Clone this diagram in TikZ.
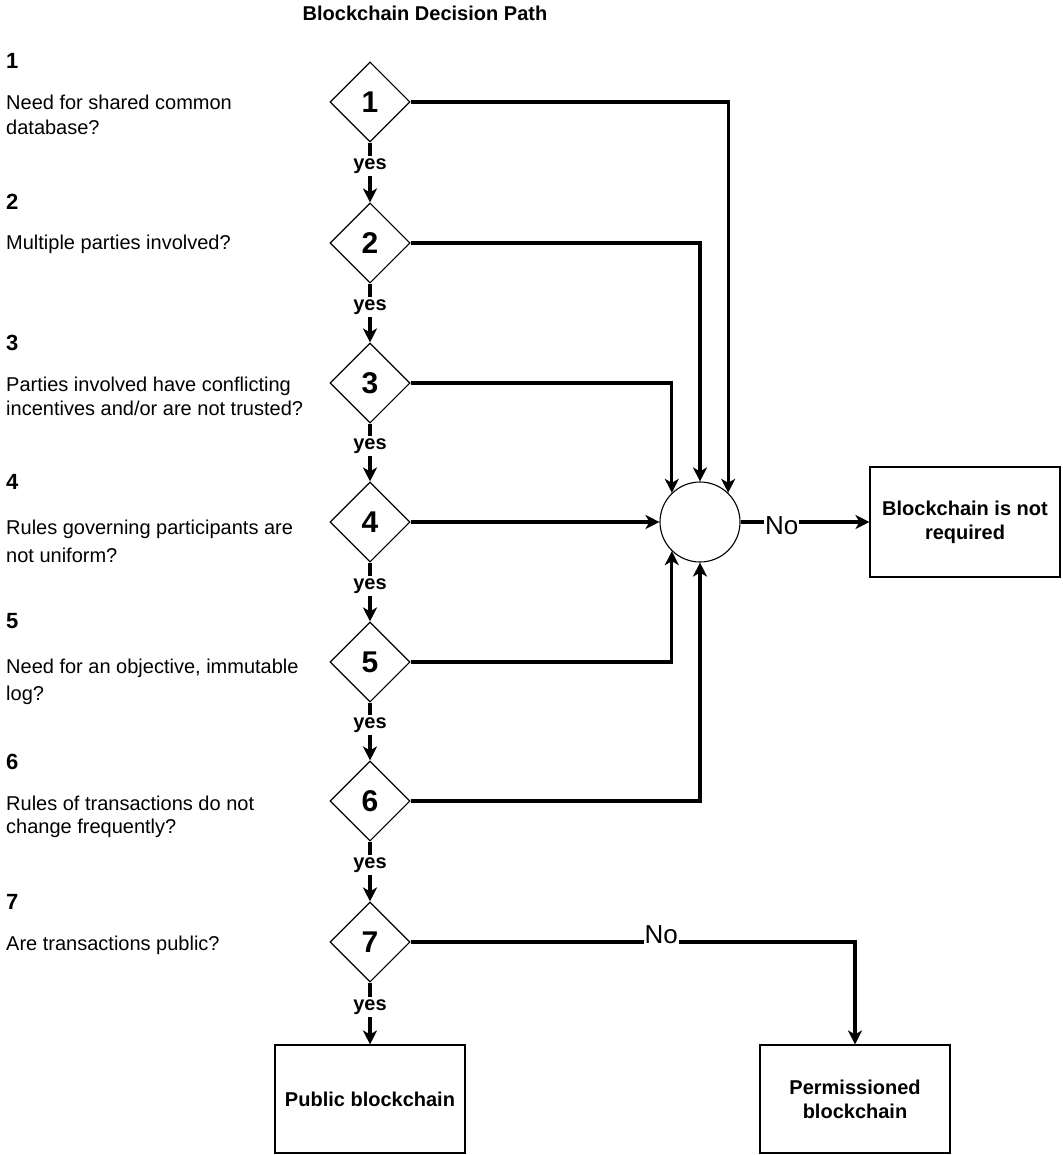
\documentclass[tikz,border=0pt]{standalone}
\usepackage{fontspec}
\setmainfont{Liberation Sans}
\usetikzlibrary{shapes.geometric,arrows.meta}
\begin{document}
\begin{tikzpicture}[x=1pt,y=-1pt,
  shapeline/.style={draw=black, line width=1.1pt},
  decision/.style={shapeline, diamond, minimum width=80pt, minimum height=80pt,
    inner sep=0pt, font=\bfseries\fontsize{30}{36}\selectfont},
  junction/.style={shapeline, circle, minimum size=80pt, inner sep=0pt},
  outcome/.style={shapeline, rectangle, minimum width=190pt, inner sep=0pt,
    align=center, font=\bfseries\fontsize{20}{24}\selectfont},
  arr/.style={line width=3.2pt, -{Stealth[length=14pt,width=14pt,inset=4pt]}},
  yeslbl/.style={fill=white, inner xsep=2pt, inner ysep=2.5pt, pos=0.45, anchor=base,
    font=\bfseries\fontsize{20}{24}\selectfont},
  nolbl/.style={fill=white, inner xsep=1pt, inner ysep=2pt,
    font=\fontsize{26}{30}\selectfont},
  stepnum/.style={anchor=base west, inner sep=0pt, font=\bfseries\fontsize{22}{26}\selectfont},
  question/.style={anchor=base west, inner sep=0pt, font=\fontsize{20}{24}\selectfont},
]
\useasboundingbox (0,0) rectangle (1062,1155);

% title
\node[anchor=base, inner sep=0pt, font=\bfseries\fontsize{20}{24}\selectfont] (title) at (425,21) {Blockchain Decision Path};

% questions listed on the left
\node[stepnum] (n1) at (6,69) {1};
\node[question] (q1a) at (6,110) {Need for shared common};
\node[question] (q1b) at (6,135) {database?};
\node[stepnum] (n2) at (6,210) {2};
\node[question] (q2a) at (6,250) {Multiple parties involved?};
\node[stepnum] (n3) at (6,350) {3};
\node[question] (q3a) at (6,391) {Parties involved have conflicting};
\node[question] (q3b) at (6,415) {incentives and/or are not trusted?};
\node[stepnum] (n4) at (6,489) {4};
\node[question] (q4a) at (6,534) {Rules governing participants are};
\node[question] (q4b) at (6,562) {not uniform?};
\node[stepnum] (n5) at (6,628) {5};
\node[question] (q5a) at (6,673) {Need for an objective, immutable};
\node[question] (q5b) at (6,700) {log?};
\node[stepnum] (n6) at (6,769) {6};
\node[question] (q6a) at (6,810) {Rules of transactions do not};
\node[question] (q6b) at (6,833) {change frequently?};
\node[stepnum] (n7) at (6,909) {7};
\node[question] (q7a) at (6,950) {Are transactions public?};

% decision diamonds
\node[decision] (d1) at (370,102) {1};
\node[decision] (d2) at (370,243) {2};
\node[decision] (d3) at (370,383) {3};
\node[decision] (d4) at (370,522) {4};
\node[decision] (d5) at (370,662) {5};
\node[decision] (d6) at (370,801) {6};
\node[decision] (d7) at (370,942) {7};

% collecting circle and outcomes
\node[junction] (c) at (700,522) {};
\node[outcome, minimum height=110pt] (nr) at (965,522) {Blockchain is not\\required};
\node[outcome, minimum height=108pt] (pub) at (370,1099) {Public blockchain};
\node[outcome, minimum height=108pt] (perm) at (855,1099) {Permissioned\\blockchain};

% main "yes" chain
\draw[arr] (d1.south) -- node[yeslbl] {yes} (d2.north);
\draw[arr] (d2.south) -- node[yeslbl] {yes} (d3.north);
\draw[arr] (d3.south) -- node[yeslbl] {yes} (d4.north);
\draw[arr] (d4.south) -- node[yeslbl] {yes} (d5.north);
\draw[arr] (d5.south) -- node[yeslbl] {yes} (d6.north);
\draw[arr] (d6.south) -- node[yeslbl] {yes} (d7.north);
\draw[arr] (d7.south) -- node[yeslbl] {yes} (pub.north);

% negative answers gather at the circle
\draw[arr] (d1.east) -| (c.46);
\draw[arr] (d2.east) -| (c.north);
\draw[arr] (d3.east) -| (c.134);
\draw[arr] (d4.east) -- (c.west);
\draw[arr] (d5.east) -| (c.-134);
\draw[arr] (d6.east) -| (c.south);
\draw[arr] (c.east) -- node[nolbl, pos=0.32, yshift=-4pt] {No} (nr.west);

% question 7 answered no
\draw[arr] (d7.east) -| node[nolbl, pos=0.282, yshift=7pt] {No} (perm.north);
\end{tikzpicture}
\end{document}
